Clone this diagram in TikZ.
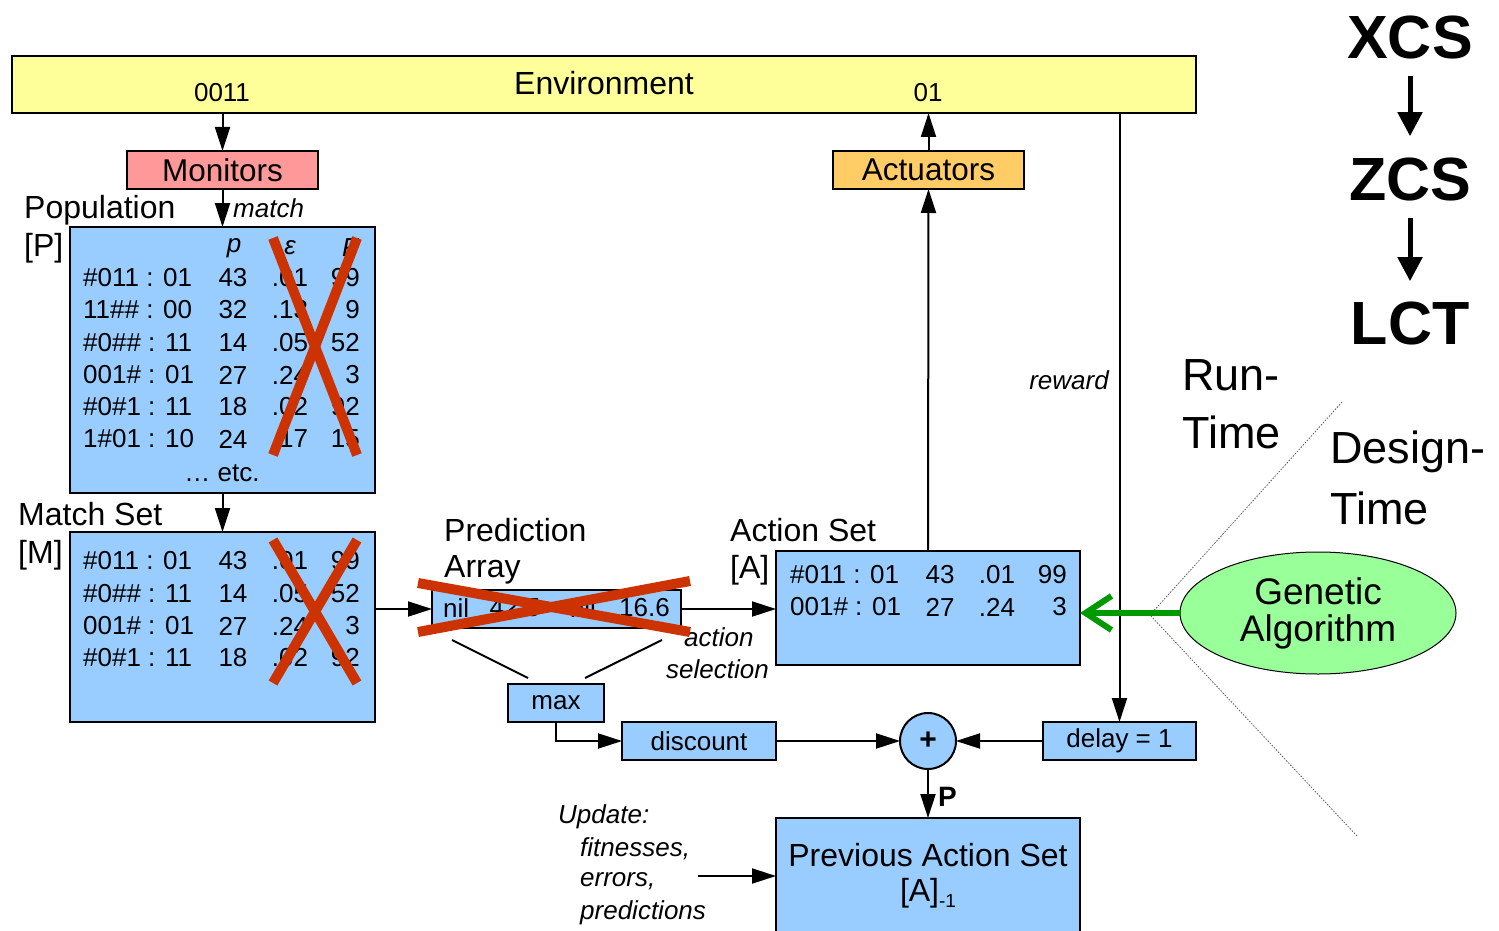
\documentclass[tikz,border=0pt]{standalone}
\usepackage{fontspec}
\setmainfont{Liberation Sans}
\usetikzlibrary{arrows.meta,shapes.geometric,calc}
\definecolor{boxblue}{HTML}{99CCFF}
\definecolor{envyellow}{HTML}{FFFF99}
\definecolor{monred}{HTML}{FF9999}
\definecolor{actorange}{HTML}{FFCC66}
\definecolor{gagreen}{HTML}{99FF99}
\definecolor{arrowgreen}{HTML}{009900}
\definecolor{crossred}{HTML}{CC3300}
\tikzset{
  box/.style={draw=black,line width=2pt,fill=boxblue,inner sep=0pt,outer sep=0pt},
  conn/.style={line width=2pt,-{Triangle[length=24pt,width=15pt]}},
  plainline/.style={line width=2pt},
  cross/.style={line width=10pt,crossred},
  tsmall/.style={font=\fontsize{26}{31}\selectfont,inner sep=0pt},
  tit/.style={font=\fontsize{26}{31}\selectfont\itshape,inner sep=0pt},
  tlabel/.style={font=\fontsize{32}{38}\selectfont,inner sep=0pt},
  tbig/.style={font=\fontsize{45}{54}\selectfont,inner sep=0pt},
  tbold/.style={font=\fontsize{61}{70}\selectfont\bfseries,inner sep=0pt},
  bigarrow/.style={line width=5pt,-{Triangle[length=24pt,width=24pt]}},
  garrow/.style={line width=6pt,arrowgreen,-{Straight Barb[length=26pt,width=34pt,line width=6pt]}},
  dotline/.style={line width=0.8pt,gray!70!black,dash pattern=on 1.5pt off 1.5pt},
}
% row: name, x0, y, condition, p, eps, F
\newcommand\tabrow[7]{%
  \node[tsmall,anchor=west] (#1c) at (#2,#3) {#4};
  \node[tsmall] (#1p) at (#2+150,#3) {#5};
  \node[tsmall] (#1e) at (#2+207,#3) {#6};
  \node[tsmall,anchor=east] (#1f) at (#2+277,#3) {#7};
}
\begin{document}
\begin{tikzpicture}[x=1pt,y=-1pt]
\useasboundingbox (0,0) rectangle (1499,931);

% main boxes
\node[box,fill=envyellow,minimum width=1184pt,minimum height=57pt] (env) at (604,84.5) {};
\node[tlabel] (envt) at (604,83) {Environment};
\node[tsmall] (in) at (222,93) {0011};
\node[tsmall] (out) at (928,93) {01};

\node[box,fill=monred,minimum width=191pt,minimum height=38pt,font=\fontsize{31.5}{36}\selectfont] (mon) at (222.5,170) {Monitors};
\node[box,fill=actorange,minimum width=191pt,minimum height=38pt,font=\fontsize{31.5}{36}\selectfont] (act) at (928.5,170) {Actuators};

\node[box,minimum width=305pt,minimum height=266pt] (pop) at (222.5,360) {};
\node[box,minimum width=305pt,minimum height=190pt] (ms) at (222.5,627) {};
\node[box,minimum width=249pt,minimum height=38pt] (pa) at (556.5,609) {};
\node[box,minimum width=96pt,minimum height=38pt,tsmall] (max) at (556,703) {max};
\node[box,minimum width=154pt,minimum height=38pt,tsmall] (disc) at (699,741) {discount};
\node[box,minimum width=153pt,minimum height=38pt,tsmall] (delay) at (1119.5,741) {delay = 1};
\node[box,circle,minimum size=56pt,font=\fontsize{30}{36}\selectfont\bfseries] (plus) at (928,741) {+};
\node[box,minimum width=304pt,minimum height=114pt] (as) at (928,608) {};
\node[box,minimum width=304pt,minimum height=140pt] (prev) at (928,888) {};
\node[tlabel] (prevt) at (928,855) {Previous Action Set};
\node[tlabel] (prevs) at (928,893) {[A]{\fontsize{19}{20}\selectfont\raisebox{-6pt}{-1}}};
\node[draw=black,line width=1pt,fill=gagreen,ellipse,minimum width=276pt,minimum height=122pt,inner sep=0pt,align=center,font=\fontsize{37}{37}\selectfont] (ga) at (1318,613) {Genetic\\Algorithm};

% labels
\node[tlabel,anchor=west] (popl) at (24,210) {Population};
\node[tlabel,anchor=west] (popb) at (24,248) {[P]};
\node[tlabel,anchor=west] (msl) at (18,514) {Match Set};
\node[tlabel,anchor=west] (msb) at (18,555) {[M]};
\node[tlabel,anchor=west] (pal) at (444,530) {Prediction};
\node[tlabel,anchor=west] (pab) at (444,570) {Array};
\node[tlabel,anchor=west] (asl) at (730,530) {Action Set};
\node[tlabel,anchor=west] (asb) at (730,570) {[A]};
\node[tit,anchor=west] (matchl) at (233,208) {match};
\node[tit,anchor=east] (rewl) at (1109,380) {reward};
\node[tit,anchor=west] (acl1) at (684,637) {action};
\node[tit,anchor=west] (acl2) at (666,669) {selection};
\node[tit,anchor=west] (up1) at (558,817) {Update:};
\node[tit,anchor=west] (up2) at (580,849) {fitnesses,};
\node[tit,anchor=west] (up3) at (580,881) {errors,};
\node[tit,anchor=west] (up4) at (580,913) {predictions};
\node[tsmall,font=\fontsize{28}{30}\selectfont\bfseries,anchor=west] (pl) at (938,797) {P};
\node[tbig,anchor=west] (rt1) at (1182,375) {Run-};
\node[tbig,anchor=west] (rt2) at (1182,432) {Time};
\node[tbig,anchor=west] (dt1) at (1330,452) {Design-};
\node[tbig,anchor=west] (dt2) at (1330,508) {Time};
\node[tbold] (xcs) at (1410,38) {XCS};
\node[tbold] (zcs) at (1410,180) {ZCS};
\node[tbold] (lct) at (1410,323) {LCT};

% population table
\node[tit] (hp) at (234,248) {p};
\node[tit] (he) at (290,248) {ε};
\node[tit] (hf) at (350,248) {F};
\tabrow{pa}{83}{278}{\#011 : 01}{43}{.01}{99}
\tabrow{pb}{83}{310}{11\#\# : 00}{32}{.13}{9}
\tabrow{pc}{83}{343}{\#0\#\# : 11}{14}{.05}{52}
\tabrow{pd}{83}{375}{001\# : 01}{27}{.24}{3}
\tabrow{pe}{83}{407}{\#0\#1 : 11}{18}{.02}{92}
\tabrow{pf}{83}{439}{1\#01 : 10}{24}{.17}{15}
\node[tsmall] (etc) at (222,473) {… etc.};
% match set table
\tabrow{ma}{83}{561}{\#011 : 01}{43}{.01}{99}
\tabrow{mb}{83}{594}{\#0\#\# : 11}{14}{.05}{52}
\tabrow{mc}{83}{626}{001\# : 01}{27}{.24}{3}
\tabrow{md}{83}{658}{\#0\#1 : 11}{18}{.02}{92}
% action set table
\tabrow{aa}{790}{575}{\#011 : 01}{43}{.01}{99}
\tabrow{ab}{790}{607}{001\# : 01}{27}{.24}{3}
% prediction array
\node[tsmall,anchor=west] (pv1) at (443,608) {nil};
\node[tsmall] (pv2) at (515,608) {42.5};
\node[tsmall] (pv3) at (583,608) {nil};
\node[tsmall,anchor=east] (pv4) at (670,608) {16.6};

% connectors
\draw[conn] (env.south -| mon.north) -- (mon.north);
\draw[conn] (mon.south) -- (pop.north);
\draw[conn] (pop.south) -- (ms.north);
\draw[conn] (ms.east |- pa.west) -- (pa.west);
\draw[conn] (pa.east) -- (as.west |- pa.east);
\draw[conn] (as.north) -- (act.south);
\draw[conn] (act.north) -- (act.north |- env.south);
\draw[conn] (env.south -| delay.north) -- (delay.north);
\draw[conn] (delay.west) -- (plus.east);
\draw[conn] (disc.east) -- (plus.west);
\draw[conn] (max.south) |- (disc.west);
\draw[conn] (plus.south) -- (prev.north);
\coordinate (upd) at (698,876);
\draw[conn] (upd) -- (prev.west |- upd);
\coordinate (l1a) at (452,640);
\coordinate (l1b) at (528,678);
\coordinate (l2a) at (662,640);
\coordinate (l2b) at (585,678);
\draw[plainline] (l1a) -- (l1b);
\draw[plainline] (l2a) -- (l2b);

% big arrows
\draw[bigarrow,shorten <=16pt,shorten >=22pt] (xcs.south) -- (zcs.north);
\draw[bigarrow,shorten <=16pt,shorten >=20pt] (zcs.south) -- (lct.north);

% design-time wedge
\coordinate (apex) at (1150,615);
\coordinate (dtop) at (1342,402);
\coordinate (dbot) at (1357,836);
\draw[dotline] (dtop) -- (apex) -- (dbot);
\draw[garrow] (ga.west) -- (as.east |- ga.west);

% crosses
\coordinate (x1a) at (273,238); \coordinate (x1b) at (357,455);
\coordinate (x1c) at (357,238); \coordinate (x1d) at (273,455);
\draw[cross] (x1a) -- (x1b); \draw[cross] (x1c) -- (x1d);
\coordinate (x2a) at (273,540); \coordinate (x2b) at (357,683);
\coordinate (x2c) at (357,540); \coordinate (x2d) at (273,683);
\draw[cross] (x2a) -- (x2b); \draw[cross] (x2c) -- (x2d);
\coordinate (x3a) at (418,583); \coordinate (x3b) at (690,632);
\coordinate (x3c) at (418,632); \coordinate (x3d) at (690,581);
\draw[cross] (x3a) -- (x3b); \draw[cross] (x3c) -- (x3d);
\end{tikzpicture}
\end{document}
